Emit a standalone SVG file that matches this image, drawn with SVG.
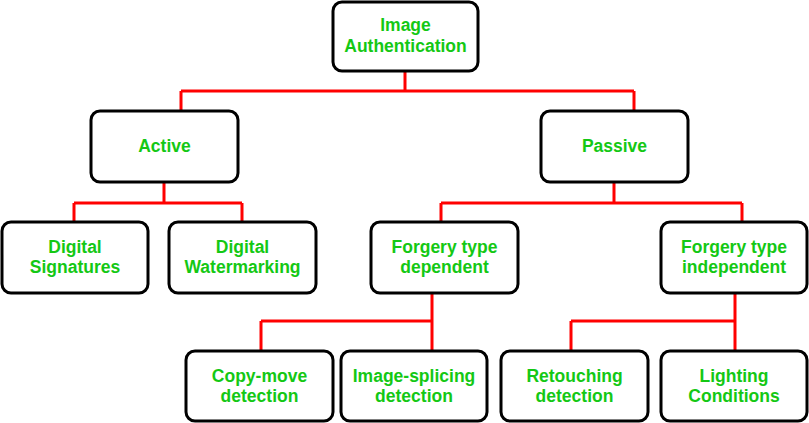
<svg xmlns="http://www.w3.org/2000/svg" width="809" height="423" viewBox="0 0 809 423">
<style>
.box{fill:#fff;stroke:#000;stroke-width:3}
.t{font-family:"Liberation Sans",Arial,sans-serif;font-weight:bold;font-size:17.5px;fill:#14c814;text-anchor:middle}
.c{fill:none;stroke:#ff0000;stroke-width:3}
</style>
<rect width="809" height="423" fill="#fff"/>
<g id="connectors">
<path class="c" d="M405 71V91M181 91H634M181 91V111M634 91V111"/>
<path class="c" d="M164 182V203M74 203H242M74 203V222M242 203V222"/>
<path class="c" d="M614 182V203M441 203H742M441 203V222M742 203V222"/>
<path class="c" d="M432 293V351M261 321H432M261 321V351"/>
<path class="c" d="M735 293V351M571 321H735M571 321V351"/>
</g>
<g id="root"><rect class="box" x="333" y="2" width="145" height="69" rx="9"/><text class="t" x="405.5" y="31">Image</text><text class="t" x="405.5" y="52">Authentication</text></g>
<g id="active"><rect class="box" x="91" y="111" width="147" height="71" rx="9"/><text class="t" x="164.5" y="152">Active</text></g>
<g id="passive"><rect class="box" x="541" y="111" width="147" height="71" rx="9"/><text class="t" x="614.5" y="152">Passive</text></g>
<g id="digital-signatures"><rect class="box" x="2" y="222" width="146" height="71" rx="9"/><text class="t" x="75" y="253">Digital</text><text class="t" x="75" y="273">Signatures</text></g>
<g id="digital-watermarking"><rect class="box" x="169" y="222" width="147" height="71" rx="9"/><text class="t" x="242.5" y="253">Digital</text><text class="t" x="242.5" y="273">Watermarking</text></g>
<g id="forgery-dependent"><rect class="box" x="371" y="222" width="147" height="71" rx="9"/><text class="t" x="444.5" y="253">Forgery type</text><text class="t" x="444.5" y="273">dependent</text></g>
<g id="forgery-independent"><rect class="box" x="661" y="222" width="146" height="71" rx="9"/><text class="t" x="734" y="253">Forgery type</text><text class="t" x="734" y="273">independent</text></g>
<g id="copy-move"><rect class="box" x="186" y="351" width="147" height="70" rx="9"/><text class="t" x="259.5" y="382">Copy-move</text><text class="t" x="259.5" y="402">detection</text></g>
<g id="image-splicing"><rect class="box" x="341" y="351" width="146" height="70" rx="9"/><text class="t" x="414" y="382">Image-splicing</text><text class="t" x="414" y="402">detection</text></g>
<g id="retouching"><rect class="box" x="501" y="351" width="147" height="70" rx="9"/><text class="t" x="574.5" y="382">Retouching</text><text class="t" x="574.5" y="402">detection</text></g>
<g id="lighting"><rect class="box" x="661" y="351" width="146" height="70" rx="9"/><text class="t" x="734" y="382">Lighting</text><text class="t" x="734" y="402">Conditions</text></g>
</svg>
